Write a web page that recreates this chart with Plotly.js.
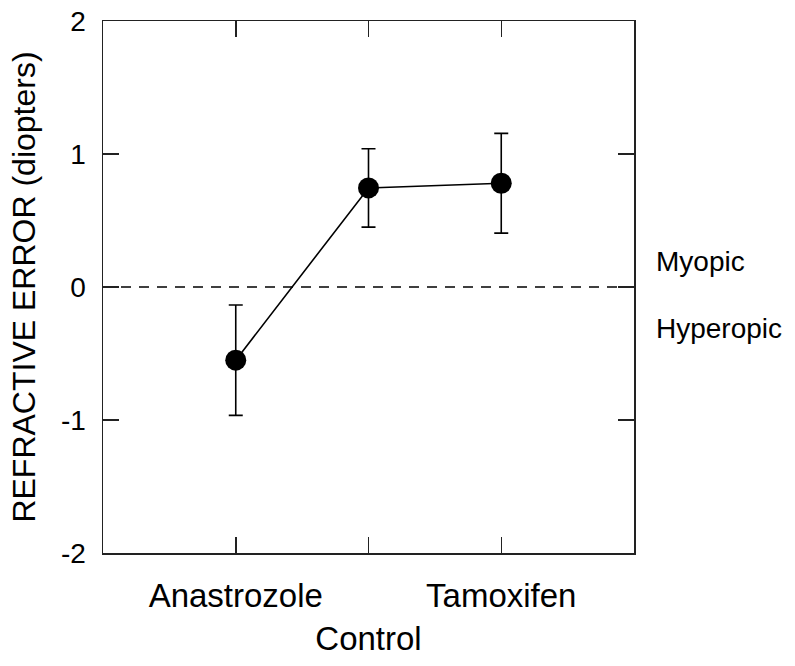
<!DOCTYPE html>
<html>
<head>
<meta charset="utf-8">
<script src="https://cdn.plot.ly/plotly-3.0.1.min.js"></script>
<style>
  body { margin: 0; background: #fff; }
  #myDiv { width: 795px; height: 666px; }
</style>
</head>
<body>
<div id="myDiv"></div>
<script>
// group positions and labels
var groupX = [1, 2, 3];
var groupLabels = ['Anastrozole', '<br>Control', 'Tamoxifen'];

// mean refractive error (diopters) and error bar half-widths
var meanError = [-0.55, 0.745, 0.78];
var errorBars = [0.415, 0.295, 0.375];

// side labels for the zero line
var sideLabels = ['Myopic', 'Hyperopic'];
var sideLabelY = [0.19, -0.31];

var font = 'Liberation Sans, Arial, sans-serif';

var tr = {
    x: groupX,
    y: meanError,
    mode: 'lines+markers',
    type: 'scatter',
    line: { color: '#000', width: 1.6 },
    marker: { size: 21, color: '#000' },
    error_y: {
        type: 'data',
        array: errorBars,
        visible: true,
        color: '#000',
        thickness: 1.6,
        width: 7
    },
    cliponaxis: false,
    showlegend: false
};

var zeroLine = {
    type: 'line',
    xref: 'paper', x0: 0, x1: 1,
    yref: 'y', y0: 0, y1: 0,
    line: { color: '#000', width: 1.5, dash: '10px,8px' },
    layer: 'below'
};

var annotations = [];
for (var i = 0; i < sideLabels.length; i++) {
    annotations.push({
        text: sideLabels[i],
        xref: 'paper', x: 1, xanchor: 'left', xshift: 20,
        yref: 'y', y: sideLabelY[i], yanchor: 'middle',
        showarrow: false,
        font: { family: font, size: 28, color: '#000' }
    });
}

var layout = {
    width: 795,
    height: 666,
    margin: { l: 103, r: 161, t: 21, b: 113 },
    paper_bgcolor: '#fff',
    plot_bgcolor: '#fff',
    showlegend: false,
    xaxis: {
        range: [0, 4],
        tickvals: groupX,
        ticktext: groupLabels,
        tickangle: 0,
        ticks: 'inside',
        ticklen: 16,
        tickwidth: 1.5,
        tickcolor: '#222',
        showline: true,
        linecolor: '#222',
        linewidth: 1.5,
        mirror: 'ticks',
        showgrid: false,
        zeroline: false,
        ticklabelstandoff: 13,
        tickfont: { family: font, size: 33, color: '#000' }
    },
    yaxis: {
        range: [-2, 2],
        tickvals: [-2, -1, 0, 1, 2],
        ticktext: ['-2', '-1', '0', '1', '2'],
        ticks: 'inside',
        ticklen: 16,
        tickwidth: 1.5,
        tickcolor: '#222',
        showline: true,
        linecolor: '#222',
        linewidth: 1.5,
        mirror: 'ticks',
        showgrid: false,
        zeroline: false,
        ticklabelstandoff: 10,
        tickfont: { family: font, size: 28, color: '#000' },
        title: {
            text: 'REFRACTIVE ERROR (diopters)',
            font: { family: font, size: 32, color: '#000' },
            standoff: 16
        }
    },
    shapes: [zeroLine],
    annotations: annotations
};

var config = { displayModeBar: false, staticPlot: true };

Plotly.newPlot('myDiv', [tr], layout, config);
</script>
</body>
</html>
